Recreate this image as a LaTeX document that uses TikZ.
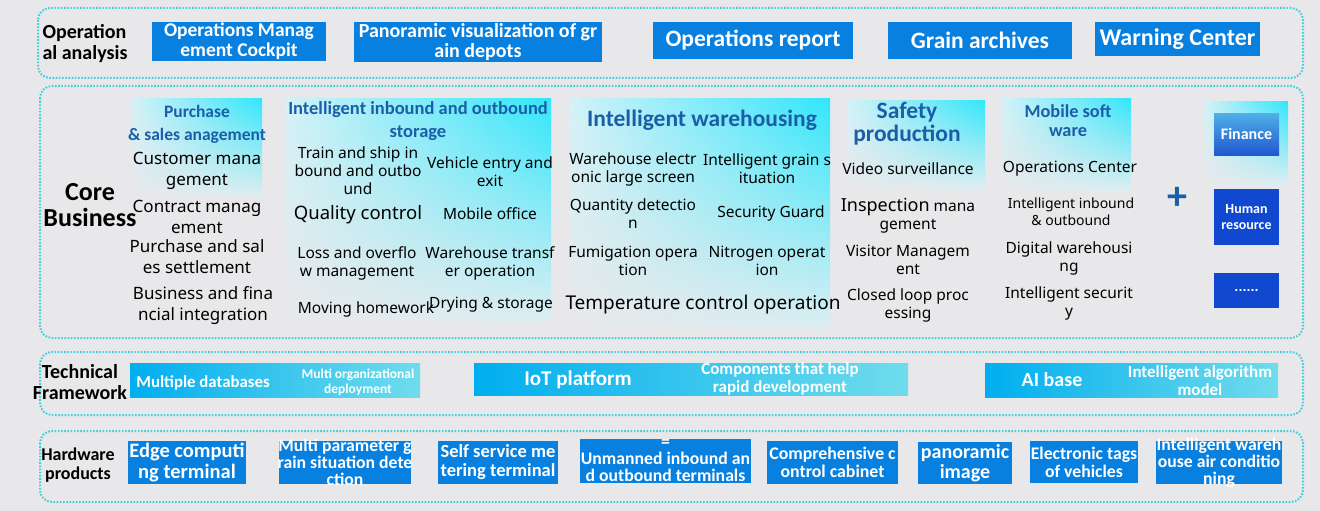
\documentclass[tikz,border=0pt]{standalone}
\usepackage{fontspec}
\usetikzlibrary{shadings}
\setmainfont{Carlito}
\newfontfamily\bodyfont{Noto Sans}
\definecolor{bggray}{HTML}{E8E8EA}
\definecolor{panelcyan}{HTML}{3CCFE0}
\definecolor{boxblue}{HTML}{0880E0}
\definecolor{headblue}{HTML}{1A5EA8}
\definecolor{headlight}{HTML}{D4F2F8}
\definecolor{cyanhi}{HTML}{30E6FA}
\definecolor{hrblue}{HTML}{1048D0}
\definecolor{financetop}{HTML}{50B0E8}
\definecolor{financebot}{HTML}{2058D0}
\definecolor{techblue}{HTML}{00AEEF}
\definecolor{techlight}{HTML}{70DCEC}
\begin{document}
\begin{tikzpicture}[x=1pt,y=-1pt,
  panel/.style={draw=panelcyan,line width=2pt,dash pattern=on 1.6pt off 1.6pt,rounded corners=12pt},
  sidelabel/.style={font=\bfseries\fontsize{20}{21}\selectfont,align=center,inner sep=0pt},
  bluebox/.style={fill=boxblue,text=white,align=center,inner sep=0pt},
  boxtext/.style={text=white,align=center,inner sep=0pt,font=\bfseries\fontsize{17.7}{17}\selectfont},
  headtext/.style={text=headblue,align=center,inner sep=0pt},
  headshade/.style={upper left=headlight,upper right=cyanhi,lower left=bggray,lower right=bggray!40!headlight},
  body/.style={font=\bodyfont\fontsize{15.5}{18}\selectfont,align=center,inner sep=0pt},
  techbar/.style={left color=techblue,middle color=techblue,right color=techlight,minimum height=34pt,inner sep=0pt},
  techtext/.style={text=white,align=center,inner sep=0pt}]
  \useasboundingbox (0,0) rectangle (1320,511);
  \fill[bggray] (0,0) rectangle (1320,511);
  % Panels
  \draw[panel] (38,8) rectangle (1303,78);
  \draw[panel] (40,86) rectangle (1303,338);
  \draw[panel] (40,352) rectangle (1303,415);
  \draw[panel] (40,431) rectangle (1303,502);
  % Operational analysis
  \node[sidelabel,align=left] (oa) at (85,44) {Operation\\al analysis};
  \node[bluebox,minimum width=174pt,minimum height=39pt,font=\bfseries\fontsize{19.5}{20}\selectfont] (cockpit) at (239,41.5) {Operations Manag\\ement Cockpit};
  \node[bluebox,minimum width=248pt,minimum height=40pt,font=\bfseries\fontsize{20}{20}\selectfont] (panorama) at (478,42) {Panoramic visualization of gr\\ain depots};
  \node[bluebox,minimum width=200pt,minimum height=37pt,font=\bfseries\fontsize{23.5}{24}\selectfont] (report) at (753,40.5) {Operations report};
  \node[bluebox,minimum width=184pt,minimum height=37pt,font=\bfseries\fontsize{23.5}{24}\selectfont] (archives) at (980,40.5) {Grain archives};
  \node[bluebox,minimum width=165pt,minimum height=34pt,font=\bfseries\fontsize{24}{24}\selectfont] (warning) at (1177.5,39) {Warning Center};
  % Core business headers
  \shade[headshade] (132,98) rectangle (262,195);
  \shade[headshade] (285,98) rectangle (551,320);
  \shade[headshade] (570,98) rectangle (830,328);
  \shade[headshade] (848,100) rectangle (985,188);
  \shade[headshade] (1001,98) rectangle (1131,190);
  \shade[headshade] (1204,101) rectangle (1288,185);
  \node[sidelabel,font=\bfseries\fontsize{26}{26}\selectfont] (core) at (90,205) {Core\\Business};
  \node[headtext,font=\bfseries\fontsize{17.5}{23}\selectfont] (purchase) at (197,124.5) {Purchase\\\& sales anagement};
  \node[headtext,font=\bfseries\fontsize{18.5}{23}\selectfont] (inbound) at (418,121.5) {Intelligent inbound and outbound\\storage};
  \node[headtext,font=\bfseries\fontsize{23.5}{24}\selectfont] (warehousing) at (702,120) {Intelligent warehousing};
  \node[headtext,font=\bfseries\fontsize{23.5}{23}\selectfont] (safety) at (907,124) {Safety\\production};
  \node[headtext,font=\bfseries\fontsize{18.3}{19}\selectfont] (mobile) at (1068,121) {Mobile soft\\ware};
  % Purchase column
  \node[body,font=\bodyfont\fontsize{17}{21}\selectfont] (customer) at (197,170.5) {Customer mana\\gement};
  \node[body,font=\bodyfont\fontsize{17}{21}\selectfont] (contract) at (197,217) {Contract manag\\ement};
  \node[body,font=\bodyfont\fontsize{17}{21}\selectfont] (settlement) at (197,257) {Purchase and sal\\es settlement};
  \node[body,font=\bodyfont\fontsize{17}{21}\selectfont] (integration) at (203,306) {Business and fina\\ncial integration};
  % Inbound and outbound column
  \node[body] (train) at (358,171) {Train and ship in\\bound and outbo\\und};
  \node[body,font=\bodyfont\fontsize{18.5}{20}\selectfont] (quality) at (358,215) {Quality control};
  \node[body] (loss) at (357,263.5) {Loss and overflo\\w management};
  \node[body] (moving) at (366,309) {Moving homework};
  \node[body] (vehicle) at (490,172) {Vehicle entry and\\exit};
  \node[body] (office) at (490,214) {Mobile office};
  \node[body] (transfer) at (490,263.5) {Warehouse transf\\er operation};
  \node[body] (drying) at (491,305) {Drying \& storage};
  % Warehousing column
  \node[body] (screen) at (633,169) {Warehouse electr\\onic large screen};
  \node[body] (quantity) at (633,213.5) {Quantity detectio\\n};
  \node[body] (fumigation) at (633,261) {Fumigation opera\\tion};
  \node[body] (grain) at (767,169) {Intelligent grain s\\ituation};
  \node[body] (guard) at (771,213) {Security Guard};
  \node[body] (nitrogen) at (767,261) {Nitrogen operat\\ion};
  \node[body,font=\bodyfont\fontsize{19}{21}\selectfont] (temperature) at (703,305) {Temperature control operation};
  % Safety column
  \node[body] (video) at (908,169) {Video surveillance};
  \node[body] (inspection) at (908,215.5) {{\fontsize{18}{18}\selectfont Inspection} mana\\gement};
  \node[body] (visitor) at (908,260) {Visitor Managem\\ent};
  \node[body] (closedloop) at (908,305.5) {Closed loop proc\\essing};
  % Mobile column
  \node[body] (opcenter) at (1070,169) {Operations Center};
  \node[body,font=\bodyfont\fontsize{14}{17}\selectfont] (inout) at (1071,211.5) {Intelligent inbound\\\& outbound};
  \node[body] (digital) at (1069,258) {Digital warehousi\\ng};
  \node[body] (security) at (1069,303) {Intelligent securit\\y};
  % Other systems
  \node[text=headblue,font=\bfseries\fontsize{40}{40}\selectfont,inner sep=0pt] (plus) at (1177,198) {+};
  \node[top color=financetop,bottom color=financebot,text=white,font=\bfseries\fontsize{16}{17}\selectfont,minimum width=65pt,minimum height=42pt,inner sep=0pt] (finance) at (1246.5,134) {Finance};
  \node[fill=hrblue,text=white,font=\bfseries\fontsize{14}{16}\selectfont,align=center,minimum width=65pt,minimum height=56pt,inner sep=0pt] (hr) at (1246.5,217) {Human\\resource};
  \node[fill=hrblue,text=white,font=\bfseries\fontsize{15}{17}\selectfont,minimum width=65pt,minimum height=35pt,inner sep=0pt] (more) at (1246.5,290.5) {......};
  % Technical framework
  \node[sidelabel] (tech) at (80,382) {Technical\\Framework};
  \node[techbar,minimum width=290pt] (dbbar) at (275,380) {};
  \node[techbar,minimum width=434pt,minimum height=32pt] (iotbar) at (691,379) {};
  \node[techbar,minimum width=293pt] (aibar) at (1131.5,380) {};
  \node[techtext,font=\bfseries\fontsize{16.8}{17}\selectfont] (databases) at (203,383) {Multiple databases};
  \node[techtext,font=\bfseries\fontsize{13.5}{15}\selectfont] (deploy) at (358,382) {Multi organizational\\deployment};
  \node[techtext,font=\bfseries\fontsize{21}{21}\selectfont] (iot) at (578,380) {IoT platform};
  \node[techtext,font=\bfseries\fontsize{17}{18}\selectfont] (components) at (780,379) {Components that help\\rapid development};
  \node[techtext,font=\bfseries\fontsize{20}{20}\selectfont] (aibase) at (1052,380) {AI base};
  \node[techtext,font=\bfseries\fontsize{17}{18}\selectfont] (algorithm) at (1200,381) {Intelligent algorithm\\model};
  % Hardware products
  \node[sidelabel,font=\bfseries\fontsize{18}{19}\selectfont] (hardware) at (78,465) {Hardware\\products};
  \node[bluebox,minimum width=118pt,minimum height=43pt,font=\bfseries\fontsize{20.5}{21}\selectfont] (edge) at (187,462.5) {Edge computi\\ng terminal};
  \node[bluebox,minimum width=132pt,minimum height=43pt] (multiparam) at (345,462.5) {};
  \node[boxtext] (multiparamtext) at (multiparam) {Multi parameter g\\rain situation dete\\ction};
  \node[bluebox,minimum width=120pt,minimum height=43pt,font=\bfseries\fontsize{18.5}{19}\selectfont] (selfservice) at (498,462.5) {Self service me\\tering terminal};
  \node[bluebox,minimum width=171pt,minimum height=44pt] (unmanned) at (665.5,461) {};
  \node[boxtext] (unmannedtext) at (unmanned) {=\\Unmanned inbound an\\d outbound terminals};
  \node[bluebox,minimum width=131pt,minimum height=43pt,font=\bfseries\fontsize{17.8}{18}\selectfont] (cabinet) at (832.5,462.5) {Comprehensive c\\ontrol cabinet};
  \node[bluebox,minimum width=94pt,minimum height=42pt,font=\bfseries\fontsize{20}{20}\selectfont] (panoimage) at (965,463) {panoramic\\image};
  \node[bluebox,minimum width=108pt,minimum height=42pt,font=\bfseries\fontsize{17.7}{18}\selectfont] (tags) at (1084,462) {Electronic tags\\of vehicles};
  \node[bluebox,minimum width=126pt,minimum height=43pt] (aircon) at (1219,462.5) {};
  \node[boxtext] (aircontext) at (aircon) {Intelligent wareh\\ouse air conditio\\ning};
\end{tikzpicture}
\end{document}
